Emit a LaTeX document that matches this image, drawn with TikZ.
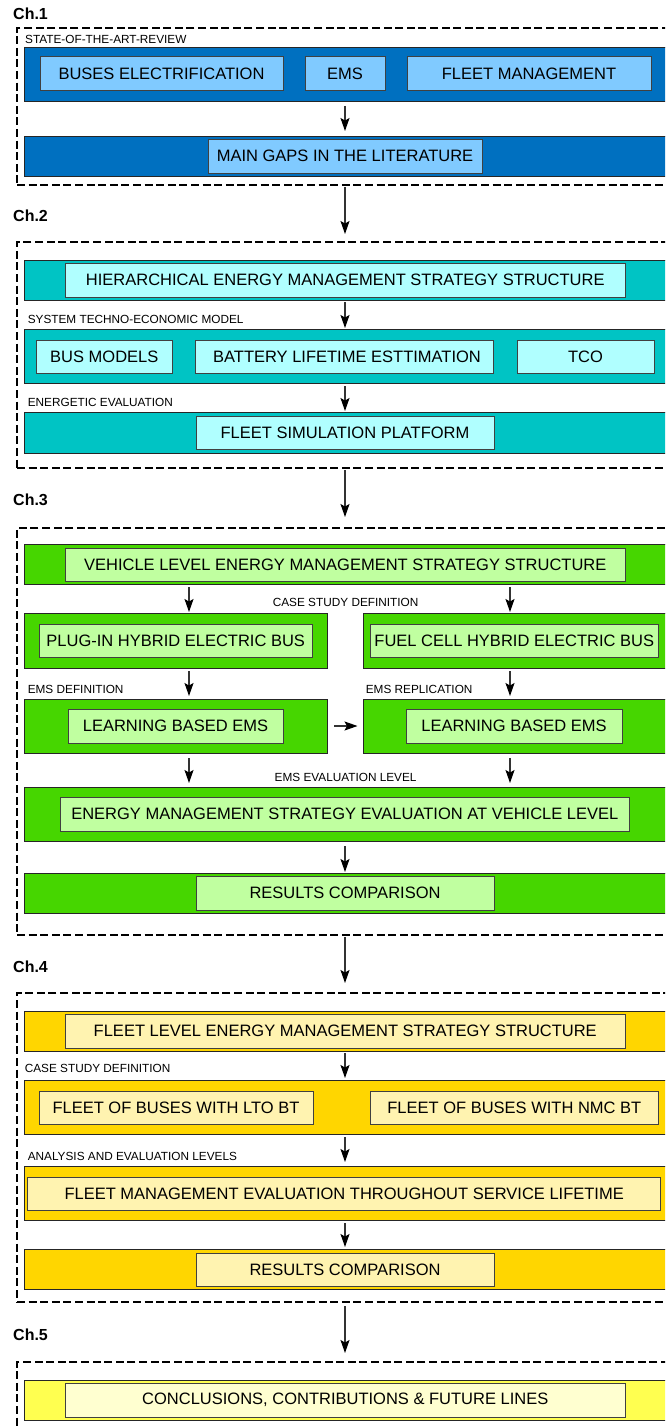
\documentclass[tikz,border=0pt]{standalone}
\usepackage{fontspec}
\setmainfont{Liberation Sans}
\usetikzlibrary{arrows.meta}

\definecolor{blueD}{RGB}{0,112,192}
\definecolor{blueL}{RGB}{128,202,255}
\definecolor{tealD}{RGB}{0,196,196}
\definecolor{tealL}{RGB}{176,255,255}
\definecolor{greenD}{RGB}{70,214,0}
\definecolor{greenL}{RGB}{192,255,160}
\definecolor{goldD}{RGB}{255,214,0}
\definecolor{goldL}{RGB}{255,243,176}
\definecolor{yelD}{RGB}{255,255,80}
\definecolor{yelL}{RGB}{255,255,208}

\tikzset{
  band/.style={draw=black!85, line width=0.9pt},
  cell/.style={draw=black!75, line width=1pt, font=\fontsize{16.5}{19}\selectfont},
  tag/.style={font=\fontsize{11.8}{13}\selectfont, inner sep=0pt},
  chap/.style={font=\bfseries\fontsize{16}{18}\selectfont, anchor=west, inner sep=0pt},
  frame/.style={draw, line width=2.8pt, dash pattern=on 8pt off 3.6pt},
  arr/.style={draw=black!80, -{Stealth[length=13pt,width=9pt,inset=2.5pt,black]}, line width=1.2pt}
}

% rectangle node from its top-left corner (x1,y1) to bottom-right corner (x2,y2):
% name, x1, y1, x2, y2, style, text
\newcommand\bx[7]{\node[#6, anchor=north west, inner sep=0pt, outer sep=0pt,
  minimum width={(#4)-(#2)}, minimum height={(#5)-(#3)}] (#1) at (#2,#3) {#7};}

\begin{document}
\begin{tikzpicture}[x=1pt,y=-1pt]
\useasboundingbox (0,0) rectangle (665,1426);
\clip (0,0) rectangle (665,1426);

\coordinate (mx) at (345,0);
\coordinate (lx) at (189,0);
\coordinate (rx) at (510,0);

% ---------------- Chapter 1 ----------------
\node[chap] (c1) at (13,14) {Ch.1};
\bx{f1}{17}{28}{700}{185}{frame}{}
\node[tag, anchor=west] (t11) at (25,39.5) {STATE-OF-THE-ART-REVIEW};
\bx{b11}{24.6}{47}{690}{101}{band, fill=blueD}{}
\bx{bus}{40}{57}{283}{91}{cell, fill=blueL}{BUSES ELECTRIFICATION}
\bx{ems}{305}{57}{385}{91}{cell, fill=blueL}{EMS}
\bx{fm}{407}{57}{651}{91}{cell, fill=blueL}{FLEET MANAGEMENT}
\bx{b12}{24.6}{136}{690}{176}{band, fill=blueD}{}
\bx{gaps}{208}{139}{482}{173}{cell, fill=blueL}{MAIN GAPS IN THE LITERATURE}

% ---------------- Chapter 2 ----------------
\node[chap] (c2) at (13,216) {Ch.2};
\bx{f2}{17}{242}{700}{468}{frame}{}
\bx{b21}{24.6}{260}{690}{300}{band, fill=tealD}{}
\bx{hier}{65}{263}{625.5}{297}{cell, fill=tealL}{HIERARCHICAL ENERGY MANAGEMENT STRATEGY STRUCTURE}
\node[tag, anchor=west] (t21) at (27.6,319.5) {SYSTEM TECHNO-ECONOMIC MODEL};
\bx{b22}{24.6}{329}{690}{383}{band, fill=tealD}{}
\bx{busm}{36}{340}{172.6}{373}{cell, fill=tealL}{BUS MODELS}
\bx{batt}{195}{340}{493}{373}{cell, fill=tealL}{\hspace{6pt}BATTERY LIFETIME ESTTIMATION}
\bx{tco}{517}{340}{654}{373}{cell, fill=tealL}{TCO}
\node[tag, anchor=west] (t22) at (27.6,402) {ENERGETIC EVALUATION};
\bx{b23}{24.6}{412}{690}{453}{band, fill=tealD}{}
\bx{fsp}{196}{416}{494}{449}{cell, fill=tealL}{FLEET SIMULATION PLATFORM}

% ---------------- Chapter 3 ----------------
\node[chap] (c3) at (13,500) {Ch.3};
\bx{f3}{17}{528}{700}{935}{frame}{}
\bx{b31}{24.6}{544}{690}{584}{band, fill=greenD}{}
\bx{veh}{65}{548}{625.5}{581}{cell, fill=greenL}{VEHICLE LEVEL ENERGY MANAGEMENT STRATEGY STRUCTURE}
\node[tag] (t31) at (345.6,602) {CASE STUDY DEFINITION};
\bx{b32l}{24.6}{613}{327}{668}{band, fill=greenD}{}
\bx{phev}{39}{624}{312.5}{657}{cell, fill=greenL}{PLUG-IN HYBRID ELECTRIC BUS}
\bx{b32r}{363}{613}{690}{668}{band, fill=greenD}{}
\bx{fchev}{370}{624}{658.6}{657}{cell, fill=greenL}{FUEL CELL HYBRID ELECTRIC BUS}
\node[tag, anchor=west] (t32) at (27.6,689) {EMS DEFINITION};
\node[tag, anchor=west] (t33) at (365.6,689) {EMS REPLICATION};
\bx{b33l}{24.6}{699}{327}{753}{band, fill=greenD}{}
\bx{lbl}{68}{709}{283}{743}{cell, fill=greenL}{LEARNING BASED EMS}
\bx{b33r}{363}{699}{690}{753}{band, fill=greenD}{}
\bx{lbr}{406}{709}{622}{743}{cell, fill=greenL}{LEARNING BASED EMS}
\node[tag] (t34) at (345.6,777) {EMS EVALUATION LEVEL};
\bx{b34}{24.6}{787}{690}{841}{band, fill=greenD}{}
\bx{emse}{60.6}{797}{629}{831}{cell, fill=greenL}{ENERGY MANAGEMENT STRATEGY EVALUATION AT VEHICLE LEVEL}
\bx{b35}{24.6}{873}{690}{913}{band, fill=greenD}{}
\bx{rc3}{196}{876}{494}{910}{cell, fill=greenL}{RESULTS COMPARISON}

% ---------------- Chapter 4 ----------------
\node[chap] (c4) at (13,967) {Ch.4};
\bx{f4}{17}{993}{700}{1302}{frame}{}
\bx{b41}{24.6}{1011}{690}{1051}{band, fill=goldD}{}
\bx{fl}{65}{1014}{625.5}{1048}{cell, fill=goldL}{FLEET LEVEL ENERGY MANAGEMENT STRATEGY STRUCTURE}
\node[tag, anchor=west] (t41) at (24.6,1068) {CASE STUDY DEFINITION};
\bx{b42}{24.6}{1080}{690}{1134}{band, fill=goldD}{}
\bx{lto}{39}{1091}{313}{1124}{cell, fill=goldL}{FLEET OF BUSES WITH LTO BT}
\bx{nmc}{370}{1091}{658.6}{1124}{cell, fill=goldL}{FLEET OF BUSES WITH NMC BT}
\node[tag, anchor=west] (t42) at (27.6,1156) {ANALYSIS AND EVALUATION LEVELS};
\bx{b43}{24.6}{1166}{690}{1220}{band, fill=goldD}{}
\bx{fme}{27.6}{1177}{660.7}{1210}{cell, fill=goldL}{FLEET MANAGEMENT EVALUATION THROUGHOUT SERVICE LIFETIME}
\bx{b44}{24.6}{1249}{690}{1289}{band, fill=goldD}{}
\bx{rc4}{196}{1253}{494}{1286}{cell, fill=goldL}{RESULTS COMPARISON}

% ---------------- Chapter 5 ----------------
\node[chap] (c5) at (13,1335) {Ch.5};
\bx{f5}{17}{1362}{700}{1460}{frame}{}
\bx{b51}{24.6}{1380}{690}{1420}{band, fill=yelD}{}
\bx{concl}{65}{1383}{625.5}{1417}{cell, fill=yelL}{CONCLUSIONS, CONTRIBUTIONS \& FUTURE LINES}

% ---------------- Connectors ----------------
\draw[arr, shorten <=5pt, shorten >=5pt] (b11.south -| mx) -- (b12.north -| mx);
\draw[arr, shorten <=2pt, shorten >=8pt] (f1.south -| mx) -- (f2.north -| mx);
\draw[arr, shorten <=2pt, shorten >=1pt] (b21.south -| mx) -- (b22.north -| mx);
\draw[arr, shorten <=3pt, shorten >=1pt] (b22.south -| mx) -- (b23.north -| mx);
\draw[arr, shorten <=2pt, shorten >=11pt] (f2.south -| mx) -- (f3.north -| mx);
\draw[arr, shorten <=3pt, shorten >=1pt] (b31.south -| lx) -- (b32l.north -| lx);
\draw[arr, shorten <=3pt, shorten >=1pt] (b31.south -| rx) -- (b32r.north -| rx);
\draw[arr, shorten <=3pt, shorten >=3pt] (b32l.south -| lx) -- (b33l.north -| lx);
\draw[arr, shorten <=3pt, shorten >=3pt] (b32r.south -| rx) -- (b33r.north -| rx);
\draw[arr, shorten <=7pt, shorten >=5.5pt] (b33l.east) -- (b33r.west);
\draw[arr, shorten <=5pt, shorten >=4pt] (b33l.south -| lx) -- (b34.north -| lx);
\draw[arr, shorten <=5pt, shorten >=4pt] (b33r.south -| rx) -- (b34.north -| rx);
\draw[arr, shorten <=5pt, shorten >=1pt] (b34.south -| mx) -- (b35.north -| mx);
\draw[arr, shorten <=2pt, shorten >=10pt] (f3.south -| mx) -- (f4.north -| mx);
\draw[arr, shorten <=2pt, shorten >=2pt] (b41.south -| mx) -- (b42.north -| mx);
\draw[arr, shorten <=3pt, shorten >=4pt] (b42.south -| mx) -- (b43.north -| mx);
\draw[arr, shorten <=3pt, shorten >=2pt] (b43.south -| mx) -- (b44.north -| mx);
\draw[arr, shorten <=4pt, shorten >=9pt] (f4.south -| mx) -- (f5.north -| mx);
\end{tikzpicture}
\end{document}
